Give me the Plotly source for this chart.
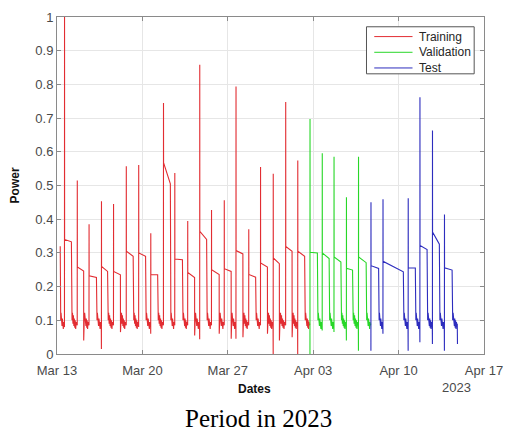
import pandas as pd
import plotly.graph_objects as go

# ---------------- data ----------------
# one entry per daily cycle: spike time, spike peak, plateau start/end, plateau length (h),
# dip after the plateau drop, dip just before the spike
train_spike_t = ["2023-03-13 14:50", "2023-03-14 15:55", "2023-03-15 15:05", "2023-03-16 15:30",
                 "2023-03-17 15:15", "2023-03-18 16:20", "2023-03-19 16:45", "2023-03-20 16:30",
                 "2023-03-21 17:30", "2023-03-22 15:45", "2023-03-23 17:10", "2023-03-24 16:50",
                 "2023-03-25 16:00", "2023-03-26 17:05", "2023-03-27 16:10", "2023-03-28 17:15",
                 "2023-03-29 16:25", "2023-03-30 17:25", "2023-03-31 17:55", "2023-04-01 17:40"]
train_peak = [1.0, 0.515, 0.385, 0.453, 0.445, 0.557, 0.561, 0.358, 0.745, 0.537,
              0.395, 0.858, 0.427, 0.456, 0.794, 0.37, 0.555, 0.535, 0.748, 0.574]
train_p1 = [0.34, 0.258, 0.232, 0.26, 0.245, 0.305, 0.30, 0.235, 0.568, 0.282,
            0.242, 0.364, 0.25, 0.253, 0.307, 0.236, 0.27, 0.285, 0.319, 0.305]
train_p2 = [0.333, 0.246, 0.227, 0.245, 0.235, 0.29, 0.29, 0.235, 0.505, 0.28,
            0.227, 0.34, 0.236, 0.245, 0.297, 0.228, 0.258, 0.268, 0.305, 0.29]
train_hours = [13.5, 12.5, 14.5, 12, 13.5, 13.5, 13.5, 13.5, 13.5, 15,
               13.5, 13.5, 15, 13.5, 13.5, 13.5, 13.5, 12, 12.5, 13.5]
train_dip_a = [0.12, 0.04, 0.12, 0.12, 0.065, 0.12, 0.12, 0.12, 0.12, 0.12,
               0.055, 0.12, 0.06, 0.045, 0.05, 0.12, 0.06, 0.04, 0.05, 0.12]
train_dip_b = [0.08, 0.085, 0.085, 0.015, 0.085, 0.085, 0.08, 0.06, 0.085, 0.085,
               0.085, 0.044, 0.085, 0.085, 0.045, 0.085, 0.085, 0.0, 0.085, 0.0]

val_spike_t = ["2023-04-02 17:45", "2023-04-03 17:50", "2023-04-04 17:00", "2023-04-05 17:25",
               "2023-04-06 17:10"]
val_peak = [0.697, 0.596, 0.585, 0.465, 0.585]
val_p1 = [0.302, 0.30, 0.288, 0.254, 0.288]
val_p2 = [0.30, 0.283, 0.273, 0.249, 0.271]
val_hours = [14.5, 13.5, 13.5, 12, 15]
val_dip_a = [0.12, 0.12, 0.12, 0.12, 0.12]
val_dip_b = [0.0, 0.07, 0.065, 0.04, 0.01]

test_spike_t = ["2023-04-07 17:40", "2023-04-08 17:20", "2023-04-10 18:55", "2023-04-11 18:00",
                "2023-04-12 18:40", "2023-04-13 18:15"]
test_peak = [0.45, 0.459, 0.462, 0.762, 0.663, 0.414]
test_p1 = [0.262, 0.275, 0.256, 0.322, 0.362, 0.256]
test_p2 = [0.254, 0.244, 0.255, 0.31, 0.326, 0.249]
test_hours = [15, 40, 14, 14, 13.5, 15]
test_dip_a = [0.12, 0.12, 0.12, 0.12, 0.12, 0.12]
test_dip_b = [0.01, 0.06, 0.01, 0.035, 0.03, 0.01]

# shape of the noisy low-power cluster between two spikes
noise_vals = [0.13, 0.10, 0.122, 0.09, 0.115, 0.083, 0.105, 0.078, 0.10, 0.074, 0.095, 0.085, 0.09]

series_start = ("2023-03-13 06:20", 0.32)
series_end = ("2023-04-14 19:50", 0.03)

series_names = ["Training", "Validation", "Test"]
series_colors = ["rgb(226,45,50)", "rgb(40,215,40)", "rgb(45,45,190)"]

y_ticks = [0, 0.1, 0.2, 0.3, 0.4, 0.5, 0.6, 0.7, 0.8, 0.9, 1]
y_tick_text = ["0", "0.1", "0.2", "0.3", "0.4", "0.5", "0.6", "0.7", "0.8", "0.9", "1"]
x_ticks = ["2023-03-13", "2023-03-20", "2023-03-27", "2023-04-03", "2023-04-10", "2023-04-17"]
x_tick_text = ["Mar 13", "Mar 20", "Mar 27", "Apr 03", "Apr 10", "Apr 17"]

# ---------------- build the series ----------------
MIN = pd.Timedelta(minutes=1)


def add_noise(ts, vs, t0, t1):
    n = len(noise_vals)
    span = t1 - t0
    for k, v in enumerate(noise_vals):
        ts.append(t0 + span * (k / (n - 1)))
        vs.append(v)


def build(spikes, peaks, p1, p2, hours, dip_a, dip_b, next_spike, lead=None, tail=None):
    ts, vs = [], []
    if lead is not None:
        t0 = pd.Timestamp(lead[0])
        ts += [t0, t0 + 8 * MIN]
        vs += [lead[1], 0.13]
        add_noise(ts, vs, t0 + 20 * MIN, pd.Timestamp(spikes[0]) - 25 * MIN)
    for i, s in enumerate(spikes):
        t = pd.Timestamp(s)
        te = t + pd.Timedelta(hours=hours[i])
        ts += [t - 8 * MIN, t, t + 8 * MIN, te, te + 8 * MIN]
        vs += [dip_b[i], peaks[i], p1[i], p2[i], dip_a[i]]
        nxt = pd.Timestamp(spikes[i + 1]) if i + 1 < len(spikes) else pd.Timestamp(next_spike)
        add_noise(ts, vs, te + 20 * MIN, nxt - 25 * MIN)
    if tail is not None:
        ts.append(pd.Timestamp(tail[0]))
        vs.append(tail[1])
    return ts, vs


tr_t, tr_v = build(train_spike_t, train_peak, train_p1, train_p2, train_hours,
                   train_dip_a, train_dip_b, val_spike_t[0], lead=series_start)
va_t, va_v = build(val_spike_t, val_peak, val_p1, val_p2, val_hours,
                   val_dip_a, val_dip_b, test_spike_t[0])
te_t, te_v = build(test_spike_t, test_peak, test_p1, test_p2, test_hours,
                   test_dip_a, test_dip_b, series_end[0], tail=series_end)

fig = go.Figure()
for (xs, ys), name, col in zip([(tr_t, tr_v), (va_t, va_v), (te_t, te_v)], series_names, series_colors):
    fig.add_trace(go.Scatter(x=xs, y=ys, mode="lines", name=name,
                             line=dict(color=col, width=1.1)))

# ---------------- MATLAB-like legend box (drawn manually for tight spacing) ----------------
leg_x0, leg_x1, leg_y0, leg_y1 = 0.7248, 0.977, 0.8314, 0.971
row_y = [0.9419, 0.8953, 0.8488]
shapes = [dict(type="rect", xref="paper", yref="paper", x0=leg_x0, x1=leg_x1, y0=leg_y0, y1=leg_y1,
               line=dict(color="#555555", width=1), fillcolor="white", layer="above")]
annotations = []
for ry, name, col in zip(row_y, series_names, series_colors):
    shapes.append(dict(type="line", xref="paper", yref="paper", x0=0.743, x1=0.8326, y0=ry, y1=ry,
                       line=dict(color=col, width=1), layer="above"))
    annotations.append(dict(text=name, x=0.844, y=ry, xref="paper", yref="paper", showarrow=False,
                            xanchor="left", yanchor="middle",
                            font=dict(family="Arial, Liberation Sans, sans-serif", size=12,
                                      color="#262626")))

tick_font = dict(family="Arial, Liberation Sans, sans-serif", size=13, color="#4a4a4a")
annotations += [
    dict(text="<b>Dates</b>", x=0.463, y=-0.105, xref="paper", yref="paper",
         showarrow=False, xanchor="center", yanchor="middle",
         font=dict(family="Arial, Liberation Sans, sans-serif", size=12, color="#111111")),
    dict(text="<b>Power</b>", x=-0.0986, y=0.5, xref="paper", yref="paper",
         showarrow=False, xanchor="center", yanchor="middle", textangle=-90,
         font=dict(family="Arial, Liberation Sans, sans-serif", size=12, color="#111111")),
    dict(text="2023", x=0.936, y=-0.1, xref="paper", yref="paper",
         showarrow=False, xanchor="center", yanchor="middle", font=tick_font),
    dict(text="Period in 2023", x=0.472, y=-0.192, xref="paper", yref="paper",
         showarrow=False, xanchor="center", yanchor="middle",
         font=dict(family="Liberation Serif, Times New Roman, serif", size=25, color="#000000")),
]

fig.update_layout(
    width=513, height=434,
    margin=dict(l=57, r=20, t=10, b=80),
    paper_bgcolor="white", plot_bgcolor="white",
    showlegend=False,
    xaxis=dict(type="date", range=["2023-03-13", "2023-04-17"],
               tickvals=x_ticks, ticktext=x_tick_text, tickfont=tick_font,
               ticklabelstandoff=4,
               showgrid=True, gridcolor="#e6e6e6", gridwidth=1,
               showline=True, linecolor="#8a8a8a", linewidth=1, mirror="ticks",
               ticks="inside", ticklen=4, tickcolor="#8a8a8a", zeroline=False),
    yaxis=dict(range=[0, 1], tickvals=y_ticks, ticktext=y_tick_text, tickfont=tick_font,
               showgrid=True, gridcolor="#e6e6e6", gridwidth=1,
               showline=True, linecolor="#8a8a8a", linewidth=1, mirror="ticks",
               ticks="inside", ticklen=4, tickcolor="#8a8a8a", zeroline=False),
    shapes=shapes,
    annotations=annotations,
)

fig.write_html("out.html")
